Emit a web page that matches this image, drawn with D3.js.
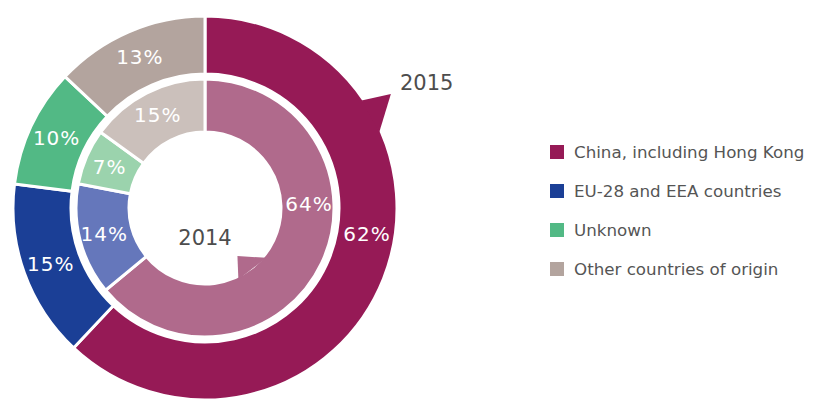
<!DOCTYPE html>
<html>
<head>
<meta charset="utf-8">
<script src="https://cdn.jsdelivr.net/npm/d3@7"></script>
<style>
  html, body { margin: 0; padding: 0; background: #fff; }
  svg { display: block; }
</style>
</head>
<body>
<svg id="chart" width="822" height="403"></svg>
<script>
// ---- data ----
const categories = ["China, including Hong Kong", "EU-28 and EEA countries", "Unknown", "Other countries of origin"];
const values2015 = [62, 15, 10, 13];   // outer ring
const values2014 = [64, 14, 7, 15];    // inner ring
const years = ["2015", "2014"];
const outerColors = ["#961a56", "#1b3f96", "#52b985", "#b3a49e"];
const innerColors = ["#b06a8c", "#6577bb", "#9bd3ad", "#cbc0bb"];
const legendColors = ["#961a56", "#1b3f96", "#52b985", "#b3a49e"];

// ---- layout ----
const svg = d3.select("#chart");
const cx = 205, cy = 208;
const R = { outerO: 192, outerI: 134, innerO: 129, innerI: 76 };
const deg = Math.PI / 180;

const g = svg.append("g").attr("transform", `translate(${cx},${cy})`);
const pie = d3.pie().sort(null).value(d => d);

const outerArc = d3.arc().innerRadius(R.outerI).outerRadius(R.outerO);
const innerArc = d3.arc().innerRadius(R.innerI).outerRadius(R.innerO);

const outerData = pie(values2015);
const innerData = pie(values2014);

g.selectAll("path.outer").data(outerData).join("path")
  .attr("class", "outer")
  .attr("d", outerArc)
  .attr("fill", (d, i) => outerColors[i])
  .attr("stroke", "#fff").attr("stroke-width", 3).attr("stroke-linejoin", "miter");

g.selectAll("path.inner").data(innerData).join("path")
  .attr("class", "inner")
  .attr("d", innerArc)
  .attr("fill", (d, i) => innerColors[i])
  .attr("stroke", "#fff").attr("stroke-width", 3);

// arrow heads (direction markers)
const polar = (a, r) => [r * Math.sin(a * deg), -r * Math.cos(a * deg)];
const line = d3.line();
g.append("path")
  .attr("d", line([polar(55.5, 190), polar(58.5, 218), polar(66.5, 190)]) + "Z")
  .attr("fill", outerColors[0]);
g.append("path")
  .attr("d", line([polar(129, 79), polar(146, 58), polar(155, 79)]) + "Z")
  .attr("fill", innerColors[0]);

// value labels
const labelStyle = sel => sel
  .attr("text-anchor", "middle")
  .attr("dominant-baseline", "central")
  .attr("fill", "#fff")
  .style("font-family", "'DejaVu Sans', sans-serif")
  .style("font-size", "20px")
  .style("letter-spacing", "1px");

function labelPos(d, i, rMid, override) {
  const a = (i === 0 && override != null) ? override * deg : (d.startAngle + d.endAngle) / 2;
  return [rMid * Math.sin(a), -rMid * Math.cos(a)];
}

g.selectAll("text.outerLbl").data(outerData).join("text")
  .attr("class", "outerLbl")
  .attr("transform", (d, i) => { const p = labelPos(d, i, 164, 99); return `translate(${p[0]},${p[1]})`; })
  .text(d => d.data + "%")
  .call(labelStyle);

g.selectAll("text.innerLbl").data(innerData).join("text")
  .attr("class", "innerLbl")
  .attr("transform", (d, i) => { const p = labelPos(d, i, 104, 88); return `translate(${p[0]},${p[1]})`; })
  .text(d => d.data + "%")
  .call(labelStyle);

// year labels
svg.append("text")
  .attr("x", 400).attr("y", 90)
  .attr("fill", "#4d4d4d")
  .style("font-family", "'DejaVu Sans', sans-serif")
  .style("font-size", "21px")
  .text(years[0]);
svg.append("text")
  .attr("x", 205).attr("y", 245)
  .attr("text-anchor", "middle")
  .attr("fill", "#4d4d4d")
  .style("font-family", "'DejaVu Sans', sans-serif")
  .style("font-size", "21px")
  .text(years[1]);

// legend
const yLeg = d3.scalePoint().domain(categories).range([152, 269]);
const leg = svg.append("g").selectAll("g").data(categories).join("g")
  .attr("transform", d => `translate(550,${yLeg(d)})`);
leg.append("rect")
  .attr("x", 0).attr("y", -7).attr("width", 14).attr("height", 14)
  .attr("fill", (d, i) => legendColors[i]);
leg.append("text")
  .attr("x", 24).attr("y", 0)
  .attr("dominant-baseline", "central")
  .attr("fill", "#555")
  .style("font-family", "'DejaVu Sans', sans-serif")
  .style("font-size", "16.7px")
  .text(d => d);
</script>
</body>
</html>
